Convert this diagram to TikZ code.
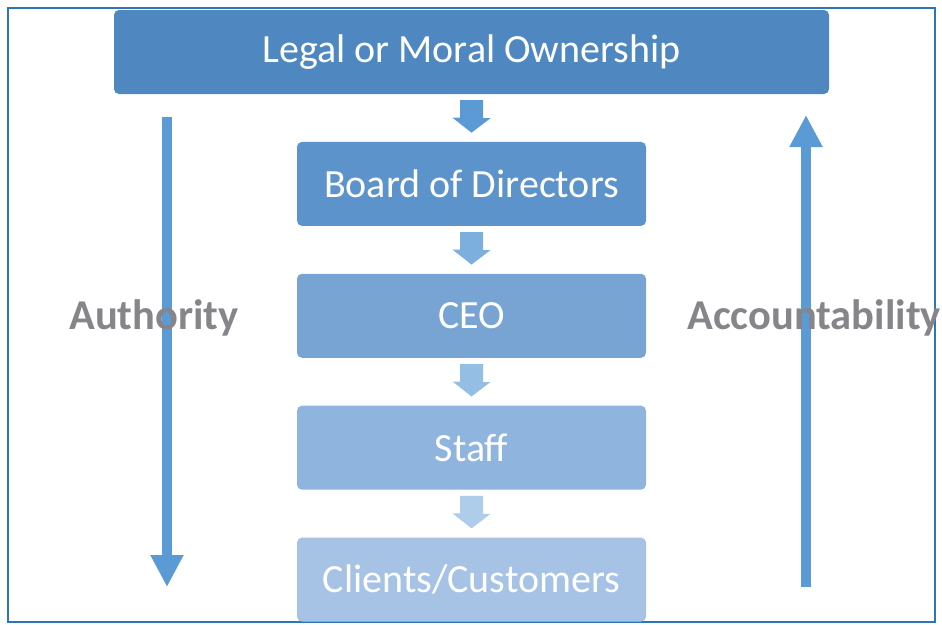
\documentclass[tikz,border=0pt]{standalone}
\usepackage{fontspec}
\setmainfont{Carlito}
\usepackage{tikz}
\usetikzlibrary{arrows.meta}
\usetikzlibrary{positioning}
\usetikzlibrary{calc}

\definecolor{frameblue}{HTML}{2E75B6}
\definecolor{ownblue}{HTML}{4F87C0}
\definecolor{boardblue}{HTML}{5D93CB}
\definecolor{ceoblue}{HTML}{78A4D4}
\definecolor{staffblue}{HTML}{8FB4DD}
\definecolor{clientblue}{HTML}{A6C3E5}
\definecolor{arrowblue}{HTML}{5B9BD5}
\definecolor{labelgray}{HTML}{85858A}

\begin{document}
\begin{tikzpicture}
          [x=1pt, y=-1pt,
           level/.style={draw=none, rounded corners=5pt, text=white, inner sep=0pt,
                         minimum height=84pt, minimum width=349pt,
                         font=\fontsize{40}{48}\selectfont},
           flow/.style={draw=none},
           side/.style={line width=10pt, draw=arrowblue,
                        -{Triangle[width=31pt,length=32pt]}},
           tag/.style={text=labelgray, font=\fontsize{42.5}{50}\selectfont\bfseries},
           node distance=47.5pt]
          \useasboundingbox (0,0) rectangle (942,624);
          \draw[frameblue, line width=1.6pt] (8,8) rectangle (935,622);

          \node (own) [level, fill=ownblue, minimum width=715pt] at (471.5,52) {Legal or Moral Ownership};
          \node (board) [level, fill=boardblue, below = of own] {Board of Directors};
          \node (ceo) [level, fill=ceoblue, below = of board] {CEO};
          \node (staff) [level, fill=staffblue, below = of ceo] {Staff};
          \node (client) [level, fill=clientblue, below = of staff] {Clients/Customers};

          % block arrows between the levels
          \fill[flow, arrowblue!95!ownblue] ($(own.south)+(-11.5,6)$) -- ++(23,0) -- ++(0,18) -- ++(7.5,0)
               -- ($(board.north)+(0,-9)$) -- ++(-19,-15) -- ++(7.5,0) -- cycle;
          \fill[flow, arrowblue!80] ($(board.south)+(-11.5,6)$) -- ++(23,0) -- ++(0,18) -- ++(7.5,0)
               -- ($(ceo.north)+(0,-9)$) -- ++(-19,-15) -- ++(7.5,0) -- cycle;
          \fill[flow, arrowblue!65] ($(ceo.south)+(-11.5,6)$) -- ++(23,0) -- ++(0,18) -- ++(7.5,0)
               -- ($(staff.north)+(0,-9)$) -- ++(-19,-15) -- ++(7.5,0) -- cycle;
          \fill[flow, arrowblue!50] ($(staff.south)+(-11.5,6)$) -- ++(23,0) -- ++(0,18) -- ++(7.5,0)
               -- ($(client.north)+(0,-9)$) -- ++(-19,-15) -- ++(7.5,0) -- cycle;

          \coordinate (authtop) at (167,117);
          \coordinate (authend) at (167,587);
          \coordinate (acctop) at (806,115);
          \coordinate (accend) at (806,587);

          \draw[side] (authtop) -- (authend);
          \draw[side] (accend) -- (acctop);

          \node (auth) [tag] at (154,318) {Authority};
          \node (acc) [tag] at (814,318) {Accountability};

        \end{tikzpicture}
\end{document}
